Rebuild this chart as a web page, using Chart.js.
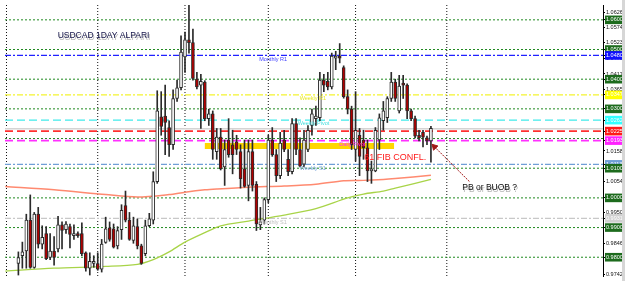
<!DOCTYPE html>
<html><head><meta charset="utf-8">
<script src="https://cdn.jsdelivr.net/npm/chart.js@4.4.1/dist/chart.umd.min.js"></script>
<style>html,body{margin:0;padding:0;background:#fff;overflow:hidden}#wrap{width:625px;height:281px;position:relative}</style>
</head><body><div id="wrap"><canvas id="c" width="625" height="281"></canvas></div>
<script>
// ---- daily candles (index = trading day) ----
const openP = [0.9779,0.9805,0.9821,0.9925,0.9766,0.9945,0.9844,0.9880,0.9799,0.9821,
0.9828,0.9909,0.9893,0.9903,0.9873,0.9880,0.9880,0.9815,0.9763,0.9779,
0.9779,0.9760,0.9850,0.9899,0.9896,0.9838,0.9893,0.9974,0.9925,0.9857,
0.9903,0.9838,0.9812,0.9906,0.9925,1.0055,1.0273,1.0276,1.0237,1.0179,
1.0335,1.0371,1.0475,1.0533,1.0523,1.0400,1.0380,1.0390,1.0267,1.0283,
1.0156,1.0205,1.0104,1.0195,1.0179,1.0189,1.0156,1.0098,1.0042,1.0156,
1.0046,0.9909,0.9925,0.9994,1.0195,1.0146,1.0075,1.0195,1.0130,1.0088,
1.0250,1.0163,1.0114,1.0163,1.0244,1.0267,1.0270,1.0397,1.0393,1.0374,
1.0471,1.0478,1.0439,1.0341,1.0299,1.0163,1.0211,1.0195,1.0169,1.0091,
1.0091,1.0195,1.0260,1.0270,1.0335,1.0390,1.0293,1.0387,1.0380,1.0293,
1.0267,1.0211,1.0221,1.0202,1.0192];
const highP = [0.9818,0.9851,0.9945,1.0010,0.9951,0.9968,0.9906,0.9903,0.9880,0.9870,
0.9938,0.9919,0.9920,0.9912,0.9909,0.9886,0.9916,0.9818,0.9815,0.9805,
0.9815,0.9860,0.9935,0.9919,0.9912,0.9903,0.9977,1.0023,0.9951,0.9935,
0.9929,0.9844,0.9925,0.9948,1.0088,1.0361,1.0358,1.0380,1.0260,1.0364,
1.0397,1.0546,1.0559,1.0660,1.0569,1.0423,1.0416,1.0395,1.0299,1.0293,
1.0234,1.0234,1.0195,1.0267,1.0228,1.0211,1.0179,1.0195,1.0195,1.0195,
1.0055,0.9968,1.0000,1.0211,1.0237,1.0163,1.0221,1.0228,1.0163,1.0267,
1.0267,1.0202,1.0228,1.0244,1.0299,1.0309,1.0423,1.0416,1.0423,1.0488,
1.0494,1.0520,1.0445,1.0364,1.0309,1.0358,1.0234,1.0228,1.0195,1.0124,
1.0237,1.0283,1.0325,1.0341,1.0423,1.0400,1.0413,1.0413,1.0384,1.0299,
1.0276,1.0228,1.0228,1.0208,1.0241];
const lowP = [0.9740,0.9763,0.9763,0.9763,0.9763,0.9831,0.9828,0.9792,0.9792,0.9773,
0.9818,0.9828,0.9880,0.9831,0.9860,0.9867,0.9805,0.9753,0.9740,0.9766,
0.9756,0.9750,0.9847,0.9854,0.9831,0.9828,0.9860,0.9919,0.9857,0.9847,
0.9828,0.9776,0.9805,0.9903,0.9912,1.0049,1.0211,1.0146,1.0140,1.0163,
1.0325,1.0364,1.0423,1.0488,1.0397,1.0367,1.0234,1.0260,1.0244,1.0130,
1.0130,1.0094,1.0042,1.0137,1.0081,1.0146,1.0033,1.0036,0.9990,1.0023,
0.9890,0.9893,0.9912,0.9984,1.0140,1.0055,1.0065,1.0156,1.0075,1.0081,
1.0146,1.0104,1.0104,1.0156,1.0211,1.0244,1.0260,1.0358,1.0364,1.0367,
1.0432,1.0455,1.0336,1.0283,1.0163,1.0124,1.0075,1.0130,1.0055,1.0049,
1.0088,1.0163,1.0228,1.0254,1.0325,1.0325,1.0286,1.0335,1.0267,1.0260,
1.0202,1.0192,1.0172,1.0179,1.0120];
const closeP = [0.9799,0.9818,0.9925,0.9766,0.9945,0.9844,0.9867,0.9795,0.9821,0.9799,
0.9909,0.9890,0.9912,0.9877,0.9880,0.9873,0.9812,0.9763,0.9786,0.9786,
0.9760,0.9844,0.9896,0.9860,0.9834,0.9890,0.9958,0.9925,0.9860,0.9906,
0.9838,0.9779,0.9906,0.9929,1.0055,1.0293,1.0241,1.0254,1.0179,1.0335,
1.0371,1.0491,1.0533,1.0523,1.0403,1.0374,1.0393,1.0267,1.0283,1.0163,
1.0205,1.0098,1.0163,1.0146,1.0146,1.0163,1.0065,1.0039,1.0156,1.0042,
0.9912,0.9919,0.9994,1.0195,1.0146,1.0075,1.0185,1.0163,1.0088,1.0250,
1.0163,1.0107,1.0195,1.0228,1.0283,1.0276,1.0397,1.0380,1.0374,1.0478,
1.0478,1.0471,1.0341,1.0299,1.0179,1.0228,1.0140,1.0169,1.0091,1.0098,
1.0228,1.0270,1.0293,1.0335,1.0390,1.0335,1.0377,1.0380,1.0293,1.0267,
1.0208,1.0202,1.0205,1.0192,1.0234];

// ---- moving averages (read at sample days) ----
const maRedDay = [-3.3,9,22,30,38,42,47,50,58,67,75,82,87,92,95,104];
const maRedVal = [1.0038,1.0027,1.0011,1.0003,1.0011,1.0019,1.0027,1.0030,1.0036,1.0040,1.0046,1.0058,1.0059,1.0062,1.0065,1.0076];
const maGreenDay = [-3.3,9,22,30,34,38,42,47,51,58,67,75,83,87,92,95,104];
const maGreenVal = [0.9753,0.9763,0.9769,0.9776,0.9792,0.9818,0.9851,0.9883,0.9906,0.9922,0.9942,0.9964,1.0000,1.0013,1.0023,1.0033,1.0062];

// ---- horizontal levels ----
const roundLevels = [1.06,1.05,1.04,1.03,1.02,1.01,1.00,0.99,0.98];
const pivotNames  = ['Monthly R1','Weekly R1','Weekly Pivot','','Daily Pivot','Weekly S1','Monthly S1'];
const pivotValues = [1.0480,1.0347,1.0262,1.0225,1.0193,1.0113,0.9931];
const bidLevel = 1.0233;
const fibZone = [1.0175];           // yellow confluence band
const fibZoneDays = [47, 94.7];
const monthStarts = [-3,20,42,63,85,108];
const axisLabels = [1.06260,1.05740,1.05235,1.04705,1.04175,1.03655,1.01580,1.00545,0.99505,0.98465,0.97425];
const boxLevels = [1.06,1.05,1.0480,1.04,1.0347,1.03,1.0262,1.0225,1.0193,1.0113,1.01,1.00,0.9931,0.99,0.98];
const boxColors = ['#1d6b1d','#1d6b1d','#1010ff','#1d6b1d','#ffff00','#1d6b1d','#33ffff','#ff1a1a','#ff22ff','#6f9fd6','#1d6b1d','#1d6b1d','#d0d0d0','#1d6b1d','#1d6b1d'];
const arrowDays = [113.7, 104.9];
const arrowVals = [1.0055, 1.0172];

// ---- styling / layout (not data) ----
const X_MIN = -3.375, X_MAX = 147.375, Y_MIN = 0.973675, Y_MAX = 1.0650;
const pivotStyle = [
  {c:'#2020ff', d:[6,2,2,2], w:1.2, t:'#4040ff', at:60.7},
  {c:'#f4f430', d:[6,2,2,2], w:1.2, t:'#e8e820', at:70.9},
  {c:'#40eaea', d:[8,4], w:1.3, t:'#40dede', at:70.4},
  {c:'#ff3030', d:[8,4], w:1.6, t:'#ff3030', at:0},
  {c:'#ff30ff', d:[8,4], w:1.6, t:'#ff30ff', at:80.9},
  {c:'#6f9fd6', d:[6,2,2,2], w:1.2, t:'#6f9fd6', at:70.9},
  {c:'#c8c8c8', d:[6,2,2,2], w:1.2, t:'#c0c0c0', at:60.7}
];
const notes = [
  {t:'USDCAD 1DAY ALPARI', x:9.9, y:1.0546, c:'#15154a', f:'8.5px "Liberation Sans", Arial', sh:true},
  {t:'PB or BUOB ?', x:111.9, y:1.0033, c:'#111', f:'8.5px "Liberation Sans", Arial', sh:true},
  {t:'61 FIB CONFL.', x:87.2, y:1.0137, c:'#ff1a1a', f:'9px "Liberation Sans", Arial', sh:false}
];

const hline = (v) => [{x:X_MIN, y:v},{x:X_MAX, y:v}];
const datasets = [];
datasets.push({type:'bar', label:'body', order:0, grouped:false, barThickness:3, minBarLength:1,
  data: openP.map((o,i)=>({x:i, y:[o, closeP[i]]})),
  backgroundColor: openP.map((o,i)=> closeP[i] >= o ? '#ffffff' : '#b00000'),
  borderColor:'#2a2a2a', borderWidth:1, borderSkipped:false});
datasets.push({type:'bar', label:'wick', order:1, grouped:false, barThickness:1,
  data: lowP.map((l,i)=>({x:i, y:[l, highP[i]]})), backgroundColor:'#2a2a2a', borderWidth:0});
datasets.push({type:'line', order:2, data: maRedDay.map((d,i)=>({x:d,y:maRedVal[i]})),
  borderColor:'#ff8a70', borderWidth:1.5, pointRadius:0, tension:0.3});
datasets.push({type:'line', order:2, data: maGreenDay.map((d,i)=>({x:d,y:maGreenVal[i]})),
  borderColor:'#a8d448', borderWidth:1.3, pointRadius:0, tension:0.3});
datasets.push({type:'line', order:3, data:[{x:fibZoneDays[0],y:fibZone[0]},{x:fibZoneDays[1],y:fibZone[0]}],
  borderColor:'#ffd700', borderWidth:6, pointRadius:0, borderCapStyle:'butt'});
pivotValues.forEach((v,k)=>{
  datasets.push({type:'line', order:4, data:hline(v), borderColor:pivotStyle[k].c, borderDash:pivotStyle[k].d,
    borderWidth:pivotStyle[k].w, pointRadius:0});
});
datasets.push({type:'line', order:5, data:hline(bidLevel), borderColor:'#d4d4d4', borderWidth:1.5, pointRadius:0});
roundLevels.forEach(v=>{
  datasets.push({type:'line', order:5, data:hline(v), borderColor:'#1f8a1f', borderDash:[2,2], borderWidth:1, pointRadius:0});
});
monthStarts.forEach(d=>{
  datasets.push({type:'line', order:5, data:[{x:d,y:Y_MIN},{x:d,y:Y_MAX}], borderColor:'#111', borderDash:[1,2], borderWidth:1, pointRadius:0});
});
datasets.push({type:'line', order:0, data: arrowDays.map((d,i)=>({x:d,y:arrowVals[i]})),
  borderColor:'#a01818', borderDash:[2,1], borderWidth:1, pointRadius:[0,3.5],
  pointStyle:'triangle', rotation:-44, pointBackgroundColor:'#a01818', pointBorderColor:'#a01818'});

const tickVals = axisLabels.concat(boxLevels);
const tickBg = axisLabels.map(()=>null).concat(boxColors);

const notesPlugin = {
  id:'notes',
  afterDatasetsDraw(chart){
    const {ctx, scales:{x,y}} = chart;
    ctx.save();
    ctx.textBaseline='top';
    ctx.font='5.5px "Liberation Sans", Arial';
    pivotNames.forEach((n,k)=>{
      if(!n) return;
      ctx.fillStyle = pivotStyle[k].t;
      ctx.fillText(n, x.getPixelForValue(pivotStyle[k].at), y.getPixelForValue(pivotValues[k])+1);
    });
    ctx.textBaseline='middle';
    notes.forEach(n=>{
      ctx.font = n.f;
      const px = x.getPixelForValue(n.x), py = y.getPixelForValue(n.y);
      if(n.sh){ ctx.fillStyle='rgba(120,120,120,0.55)'; ctx.fillText(n.t, px+1, py+1.5); }
      ctx.fillStyle = n.c; ctx.fillText(n.t, px, py);
    });
    ctx.restore();
  },
  afterDraw(chart){
    const ctx = chart.ctx;
    ctx.save(); ctx.fillStyle='#d6d6d6'; ctx.fillRect(622,0,3,281); ctx.restore();
  }
};

new Chart(document.getElementById('c'), {
  data:{datasets},
  plugins:[notesPlugin],
  options:{
    responsive:false, animation:false, events:[],
    layout:{padding:0},
    plugins:{legend:{display:false}, tooltip:{enabled:false}},
    scales:{
      x:{type:'linear', min:X_MIN, max:X_MAX, display:false, offset:false},
      y:{type:'linear', position:'right', min:Y_MIN, max:Y_MAX,
        afterBuildTicks: s => { s.ticks = tickVals.map(v=>({value:v})); },
        afterFit: s => { s.width = 22; s.paddingTop = 0; s.paddingBottom = 0; },
        ticks:{ autoSkip:false, padding:1, font:{size:5.5, family:'"Liberation Sans", Arial'},
          callback: v => Number(v).toFixed(5),
          color: ctx => tickBg[ctx.index] ? '#ffffff' : '#111111',
          showLabelBackdrop: ctx => !!tickBg[ctx.index],
          backdropColor: ctx => tickBg[ctx.index] || 'rgba(0,0,0,0)',
          backdropPadding:{top:1,bottom:1,left:1,right:2} },
        grid:{drawOnChartArea:false, drawTicks:true, tickLength:2, color:'#000'},
        border:{display:true, color:'#000'}
      }
    }
  }
});
</script></body></html>
